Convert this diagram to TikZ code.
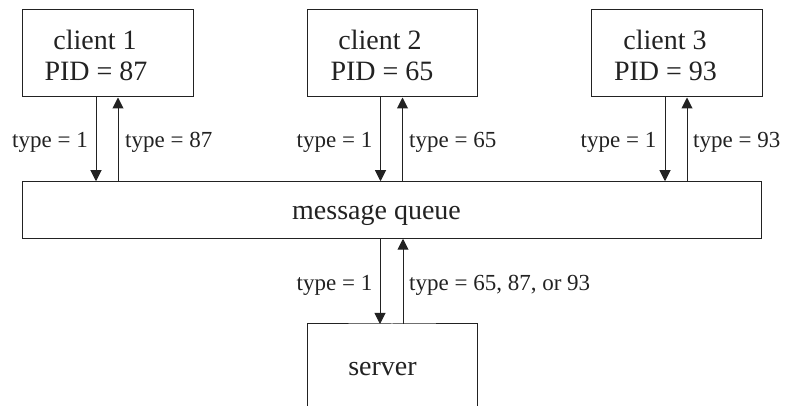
\documentclass[tikz,border=0pt]{standalone}
\usepackage{fontspec}
\setmainfont{Liberation Serif}
\usetikzlibrary{arrows.meta}
\definecolor{ink}{HTML}{222222}
\tikzset{
  box/.style={draw=ink, line width=1pt, rectangle, inner sep=0pt},
  boxtext/.style={inner sep=0pt, anchor=base, text=ink, font=\fontsize{28}{32}\selectfont},
  lbl/.style={inner sep=0pt, text=ink, font=\fontsize{23}{27}\selectfont},
  arr/.style={draw=ink, line width=1pt, -{Triangle[length=11pt,width=11pt]}}
}
\begin{document}
\begin{tikzpicture}[x=1pt,y=-1pt]
\useasboundingbox (0,0) rectangle (788,406);
% clients
\node[box, minimum width=171pt, minimum height=87pt] (c1) at (107.5,53.5) {};
\node[box, minimum width=170pt, minimum height=87pt] (c2) at (392,53.5) {};
\node[box, minimum width=171pt, minimum height=87pt] (c3) at (676.5,53.5) {};
\node[boxtext] (c1a) at (95,50) {client 1};
\node[boxtext] (c1b) at (96,81) {PID = 87};
\node[boxtext] (c2a) at (380,50) {client 2};
\node[boxtext] (c2b) at (382,81) {PID = 65};
\node[boxtext] (c3a) at (665,50) {client 3};
\node[boxtext] (c3b) at (665.5,81) {PID = 93};
% queue
\node[box, minimum width=739.5pt, minimum height=56.5pt] (q) at (391.75,210) {};
\node[boxtext] (qt) at (376.5,220) {message queue};
% server (bottom edge off the page)
\coordinate (sbl) at (307,420);
\coordinate (sbr) at (477,420);
\coordinate (s) at (392,324);
\draw[draw=ink, line width=1pt] (sbl) |- (s) -| (sbr);
\node[boxtext] (st) at (382.5,375) {server};
% arrows clients <-> queue
\foreach \c in {c1,c2,c3}{
  \draw[arr] ([xshift=-11.5pt]\c.south) -- ([xshift=-11.5pt]\c.south |- q.north);
  \draw[arr] ([xshift=10.5pt]\c.south |- q.north) -- ([xshift=10.5pt]\c.south);
}
% arrows queue <-> server
\draw[arr] ([xshift=-12pt]s |- q.south) -- ([xshift=-12pt]s);
\draw[arr] ([xshift=11pt]s) -- ([xshift=11pt]s |- q.south);
% labels
\node[lbl, anchor=base east] (l1d) at (88,148) {type = 1};
\node[lbl, anchor=base west] (l1u) at (125,148) {type = 87};
\node[lbl, anchor=base east] (l2d) at (372.5,148) {type = 1};
\node[lbl, anchor=base west] (l2u) at (409,148) {type = 65};
\node[lbl, anchor=base east] (l3d) at (656.5,148) {type = 1};
\node[lbl, anchor=base west] (l3u) at (693,148) {type = 93};
\node[lbl, anchor=base east] (lsd) at (372.5,291) {type = 1};
\node[lbl, anchor=base west] (lsu) at (409,291) {type = 65, 87, or 93};
\end{tikzpicture}
\end{document}
